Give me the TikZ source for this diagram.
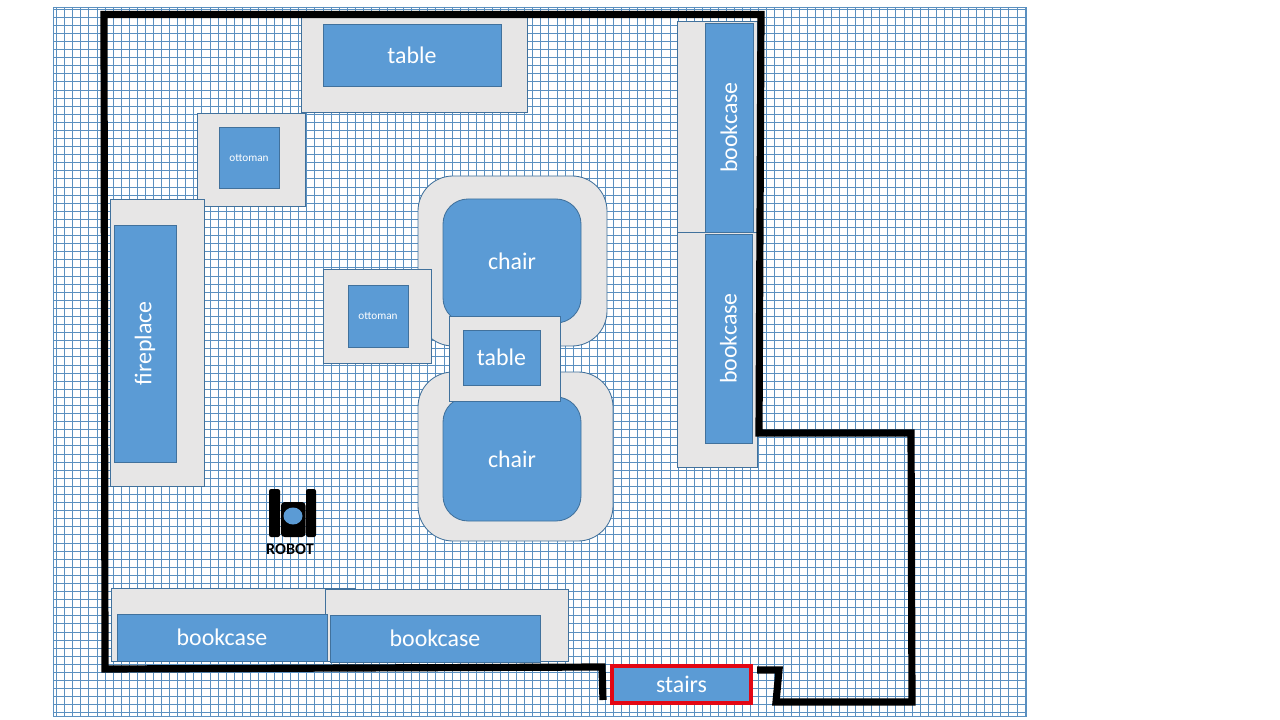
\documentclass[tikz,border=0pt]{standalone}
\usepackage{fontspec}
\setmainfont{Carlito}
\definecolor{itemblue}{HTML}{5B9BD5}
\definecolor{itemedge}{HTML}{41719C}
\definecolor{padgrey}{HTML}{E7E6E6}
\definecolor{gridblue}{HTML}{5B90C0}
\definecolor{stairsred}{HTML}{E30613}
\begin{document}
\begin{tikzpicture}[x=0.025cm,y=-0.025cm,
  extent/.style n args={4}{minimum width=(#3-#1)*0.025cm,minimum height=(#4-#2)*0.025cm,at={({(#1+#3)/2},{(#2+#4)/2})}},
  pad/.style={draw=itemedge,fill=padgrey,line width=0.6pt,inner sep=0pt},
  item/.style={draw=itemedge,fill=itemblue,line width=0.6pt,inner sep=0pt,text=white,font=\fontsize{17}{19}\selectfont},
  small item/.style={item,font=\fontsize{8}{9}\selectfont},
  gridline/.style={draw=gridblue,line width=0.75pt},
  wall/.style={draw=black,line width=5.1pt,line join=miter}]
  \useasboundingbox (0,0) rectangle (1280,720);
  % floor grid
  \foreach \i in {0,...,120} \draw[gridline] ({round(56.2+8.07*\i)+0.5},7) -- ({round(56.2+8.07*\i)+0.5},716);
  \foreach \j in {-1,...,86} \draw[gridline] (53,{round(16.7+8.09*\j)+0.5}) -- (1026,{round(16.7+8.09*\j)+0.5});
  \draw[gridline] (53.5,7.5) rectangle (1026.5,716.5);
  % furniture
  \node[pad,extent={301}{15}{527}{112}] (tablepadA) {};
  \node[item,extent={323}{24}{501}{86}] (tableA) {table};
  \node[pad,extent={197}{113}{305}{206}] (ottomanpadA) {};
  \node[small item,extent={219}{127}{279}{188}] (ottomanA) {ottoman};
  \node[pad,extent={110}{199}{204}{486}] (firepad) {};
  \node[item,extent={114}{225}{176}{462}] (fireplace) {\rotatebox{90}{fireplace}};
  \node[pad,rounded corners=35*0.025cm,extent={418}{176}{607}{346}] (chairpadA) {};
  \node[item,rounded corners=25*0.025cm,extent={443}{199}{581}{323}] (chairA) {chair};
  \node[pad,rounded corners=35*0.025cm,extent={418}{372}{613}{541}] (chairpadB) {};
  \node[item,rounded corners=25*0.025cm,extent={443}{397}{581}{521}] (chairB) {chair};
  \node[pad,extent={323}{269}{431}{363}] (ottomanpadB) {};
  \node[small item,extent={348}{285}{408}{347}] (ottomanB) {ottoman};
  \node[pad,extent={449}{316}{560}{401}] (tablepadB) {};
  \node[item,extent={463}{330}{540}{385}] (tableB) {table};
  \node[pad,extent={677}{21}{757}{232}] (casepadA) {};
  \node[item,extent={705}{23}{753}{232}] (caseA) {\rotatebox{90}{bookcase}};
  \node[pad,extent={677}{232}{757}{467}] (casepadB) {};
  \node[item,extent={705}{234}{752}{443}] (caseB) {\rotatebox{90}{bookcase}};
  \node[pad,extent={111}{588}{355}{661}] (casepadC) {};
  \node[pad,extent={325}{589}{568}{661}] (casepadD) {};
  \node[item,extent={117}{614}{327}{661}] (caseC) {bookcase};
  \node[item,extent={330}{615}{540}{662}] (caseD) {bookcase};
  \node[item,draw=stairsred,line width=2.2pt,extent={612}{666}{751}{703}] (stairs) {stairs};
  % walls
  \draw[wall] (603,700) -- (602,667) -- (105,669) -- (104,14.5) -- (761,14.5) -- (759,433) -- (911,433) -- (912,702) -- (776,702) -- (779,670) -- (757,670);
  % robot
  \fill[black,rounded corners=1.5pt] (269,489) rectangle (280,537);
  \fill[black,rounded corners=1.5pt] (306,489) rectangle (316,537);
  \fill[black,rounded corners=2.5pt] (281,502) rectangle (305.5,537);
  \fill[itemblue] (293,516) ellipse (9.5 and 8.5);
  \node[font=\fontsize{11.5}{12}\bfseries\selectfont,inner sep=0pt] (robot) at (290,549) {ROBOT};
\end{tikzpicture}
\end{document}
